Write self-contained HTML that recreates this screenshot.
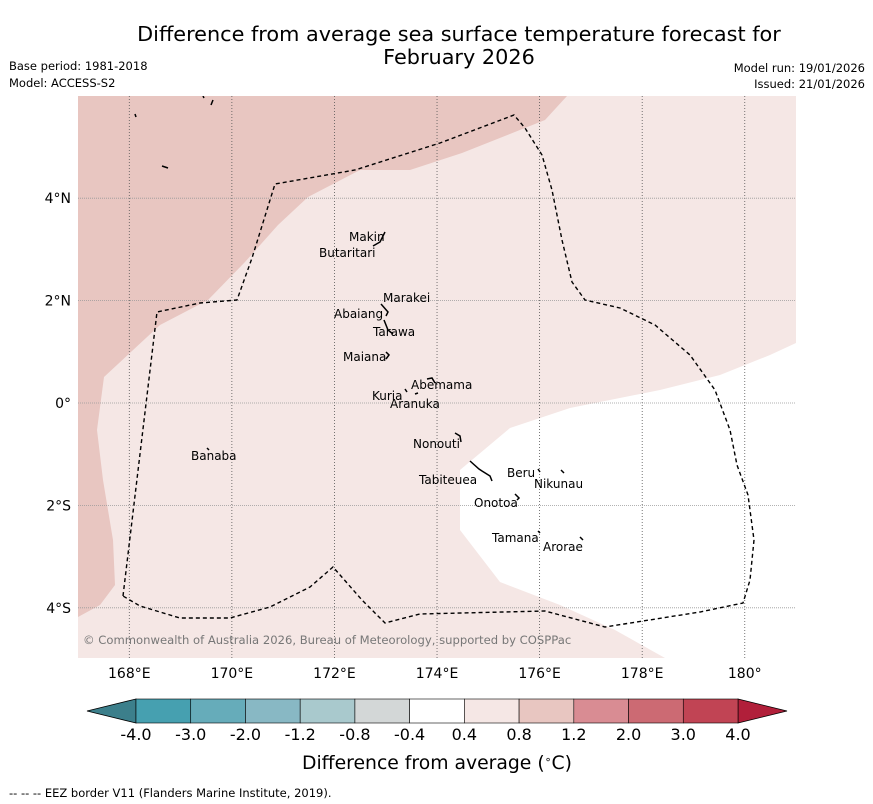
<!DOCTYPE html>
<html><head><meta charset="utf-8"><style>
body{margin:0;background:#fff;width:873px;height:804px;overflow:hidden;font-family:"DejaVu Sans","Liberation Sans",sans-serif}
svg{position:absolute;left:0;top:0}
</style></head><body>
<svg width="873" height="804" xmlns="http://www.w3.org/2000/svg">
<text x="459" y="41" font-size="20.8" text-anchor="middle">Difference from average sea surface temperature forecast for</text>
<text x="459" y="64" font-size="20.8" text-anchor="middle">February 2026</text>
<g font-size="11.5">
<text x="9" y="70">Base period: 1981-2018</text>
<text x="9" y="87">Model: ACCESS-S2</text>
<text x="865" y="72" text-anchor="end">Model run: 19/01/2026</text>
<text x="865" y="88" text-anchor="end">Issued: 21/01/2026</text>
</g>
<defs><clipPath id="mc"><rect x="78" y="96" width="718" height="562"/></clipPath></defs>
<g clip-path="url(#mc)">
<rect x="78" y="96" width="718" height="562" fill="#f5e7e5"/>
<polygon fill="#e8c6c1" points="78,96 567,96 545,120 462,153 410,170 360,170 308,197 278,225 245,262 208,300 160,325 104,377 97,430 103,480 113,540 115,585 100,605 78,617"/>
<polygon fill="#ffffff" points="796,343 770,355 720,375 660,390 570,408 510,428 460,470 460,530 500,582 560,605 615,630 665,658 796,658"/>
<g id="grid"></g>
<polygon fill="none" stroke="#000" stroke-width="1.4" stroke-dasharray="4,3" points="123,596 157,312 200,303 237,300 252,258 275,184 355,170 440,143 514,115 525,128 542,155 552,190 562,240 572,282 585,300 620,308 655,325 690,355 715,390 730,430 737,465 748,495 754,540 750,580 743,603 700,612 605,627 545,611 420,614 385,623 362,600 333,567 310,587 270,607 230,618 180,618 140,606"/>
<g stroke="#000" stroke-width="1.5" fill="none">
<path d="M373,246 L380,242 L385,232"/><path d="M381,304 L388,312 L386,316"/><path d="M384,320 L388,330 L393,334"/><path d="M386,352 L389,355 L386,359"/><path d="M427,379 L432,378 L435,383"/><path d="M405,389 L407,392"/><path d="M415,394 L418,393"/><path d="M455,433 L460,436 L461,442"/><path d="M470,461 L479,469 L482,471 L490,476 L492,481"/><path d="M538,469 L540,472"/><path d="M561,470 L564,473"/><path d="M515,494 L519,498 L517,500"/><path d="M538,531 L540,533"/><path d="M580,537 L583,540"/><path d="M207,448 L209,450"/><path d="M135,114 L136,117"/><path d="M162,166 L168,168"/><path d="M203,96 L204,98"/><path d="M213,100 L211,105"/>
</g>
<g font-size="12">
<text x="349" y="241">Makin</text><text x="319" y="257">Butaritari</text>
<text x="383" y="302">Marakei</text><text x="334" y="318">Abaiang</text>
<text x="373" y="336">Tarawa</text><text x="343" y="361">Maiana</text>
<text x="411" y="389">Abemama</text><text x="372" y="400">Kuria</text>
<text x="390" y="408">Aranuka</text><text x="413" y="448">Nonouti</text>
<text x="419" y="484">Tabiteuea</text><text x="507" y="477">Beru</text>
<text x="534" y="488">Nikunau</text><text x="474" y="507">Onotoa</text>
<text x="492" y="542">Tamana</text><text x="543" y="551">Arorae</text>
<text x="191" y="460">Banaba</text>
</g>
<text x="83" y="644" font-size="11.6" fill="#777">© Commonwealth of Australia 2026, Bureau of Meteorology, supported by COSPPac</text>
</g>
<g id="axes" font-size="14"></g>
<g id="cbar"></g>
<text x="437" y="769" font-size="18.8" text-anchor="middle">Difference from average (<tspan baseline-shift="super" font-size="11">∘</tspan>C)</text>
<text x="9" y="797" font-size="11.5">--  --  -- EEZ border V11 (Flanders Marine Institute, 2019).</text>
</svg>
<script>
const lonTicks=[168,170,172,174,176,178,180];
const latTicks=[4,2,0,-2,-4];
const cbLabels=["-4.0","-3.0","-2.0","-1.2","-0.8","-0.4","0.4","0.8","1.2","2.0","3.0","4.0"];
const cbColors=["#46a0b0","#66acba","#88b8c4","#a9c9cd","#d3d7d7","#ffffff","#f5e7e5","#e8c6c1","#d98c93","#cc6a73","#c14454"];
const NS="http://www.w3.org/2000/svg";
const xL=lon=>78+(lon-167)*51.29, yL=lat=>403-lat*51.2;
function mk(t,a,p){const e=document.createElementNS(NS,t);for(const k in a)e.setAttribute(k,a[k]);p.appendChild(e);return e;}
const g=document.getElementById('grid'),ax=document.getElementById('axes');
lonTicks.forEach(l=>{const x=xL(l);
const ln=mk('line',{x1:x,x2:x,y1:96,y2:658,stroke:'#555','stroke-width':0.8,'stroke-dasharray':'1,2'},g);


const t=mk('text',{x:x,y:678,'text-anchor':'middle'},ax);t.textContent=l===180?'180°':l+'°E';

});
latTicks.forEach(l=>{const y=yL(l);
const ln=mk('line',{x1:78,x2:796,y1:y,y2:y,stroke:'#999','stroke-width':0.8,'stroke-dasharray':'1,1'},g);


const t=mk('text',{x:71,y:y+5,'text-anchor':'end'},ax);t.textContent=l===0?'0°':Math.abs(l)+'°'+(l>0?'N':'S');

});
const cb=document.getElementById('cbar');const x0=136,x1=738,w=(x1-x0)/cbColors.length,y0=699,h=24;
const la=mk('polygon',{points:`${x0},${y0} ${x0},${y0+h} 87,${y0+h/2}`,fill:'#3c7f8b',stroke:'#000','stroke-width':0.8},cb);


const ra=mk('polygon',{points:`${x1},${y0} ${x1},${y0+h} 787,${y0+h/2}`,fill:'#b11f3a',stroke:'#000','stroke-width':0.8},cb);


cbColors.forEach((c,i)=>{const r=mk('rect',{x:x0+i*w,y:y0,width:w,height:h,fill:c,stroke:'#000','stroke-width':0.6},cb);

});
cbLabels.forEach((s,i)=>{const t=mk('text',{x:x0+i*w,y:740,'font-size':16,'text-anchor':'middle'},cb);t.textContent=s;

});
</script>
</body></html>
